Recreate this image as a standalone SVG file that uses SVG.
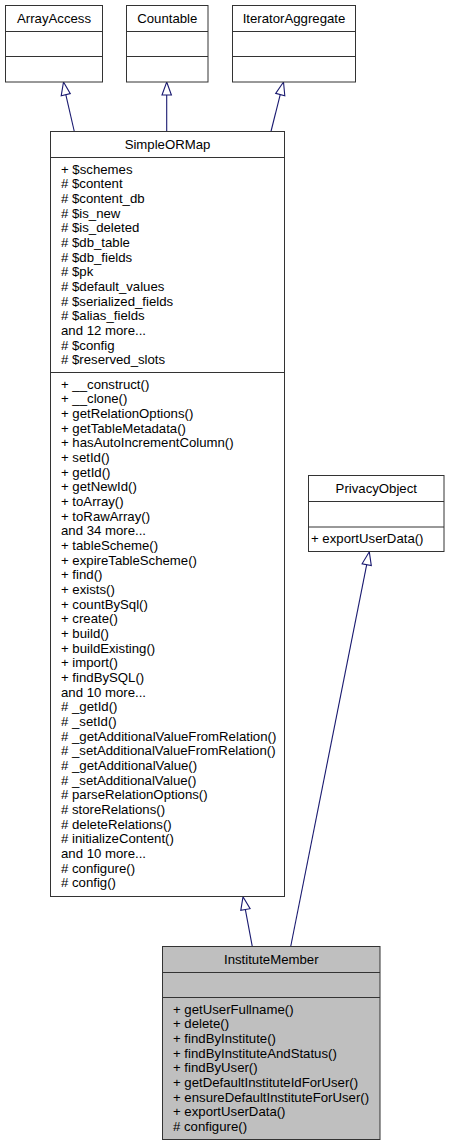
<svg xmlns="http://www.w3.org/2000/svg" width="449" height="1145" viewBox="0 0 449 1145">
<style>
.box{fill:#fff;stroke:#333;stroke-width:1}
.focus{fill:#bfbfbf;stroke:#333;stroke-width:1}
.div{stroke:#333;stroke-width:1;fill:none}
text{font-family:"Liberation Sans",Arial,Helvetica,sans-serif;font-size:13.2px;fill:#000}
.t{text-anchor:middle}
.edge{stroke:#191970;stroke-width:1.1;fill:none}
.head{stroke:#191970;stroke-width:1.1;fill:#fff}
</style>
<rect width="449" height="1145" fill="#fff"/>
<g id="connectors">
<line class="edge" x1="74.3" y1="131.5" x2="65.8" y2="94.7"/>
<polygon class="head" points="63.5,82 70.3,93.6 61.2,95.8"/>
<line class="edge" x1="166.7" y1="131.5" x2="166.7" y2="95"/>
<polygon class="head" points="166.7,82 171.4,95 162,95"/>
<line class="edge" x1="271" y1="131.5" x2="280.2" y2="94.6"/>
<polygon class="head" points="283.5,82 284.8,95.7 275.7,93.4"/>
<line class="edge" x1="252.3" y1="946.5" x2="245.4" y2="909.6"/>
<polygon class="head" points="243,896.8 250.1,908.7 240.8,910.4"/>
<line class="edge" x1="290.7" y1="946.5" x2="366.7" y2="564.7"/>
<polygon class="head" points="369.3,551.8 371.3,565.6 362.1,563.8"/>
</g>
<g id="ArrayAccess">
<rect class="box" x="5.5" y="5.5" width="97" height="76.5"/>
<line class="div" x1="5.5" y1="31.5" x2="102.5" y2="31.5"/>
<line class="div" x1="5.5" y1="56.5" x2="102.5" y2="56.5"/>
<text class="t" x="54" y="22.5">ArrayAccess</text>
</g>
<g id="Countable">
<rect class="box" x="126.5" y="5.5" width="81.5" height="76.5"/>
<line class="div" x1="126.5" y1="31.5" x2="208" y2="31.5"/>
<line class="div" x1="126.5" y1="56.5" x2="208" y2="56.5"/>
<text class="t" x="167.3" y="22.5">Countable</text>
</g>
<g id="IteratorAggregate">
<rect class="box" x="232.5" y="5.5" width="123" height="76.5"/>
<line class="div" x1="232.5" y1="31.5" x2="355.5" y2="31.5"/>
<line class="div" x1="232.5" y1="56.5" x2="355.5" y2="56.5"/>
<text class="t" x="294" y="22.5">IteratorAggregate</text>
</g>
<g id="SimpleORMap">
<rect class="box" x="50.5" y="131.5" width="234" height="765"/>
<line class="div" x1="50.5" y1="157.5" x2="284.5" y2="157.5"/>
<line class="div" x1="50.5" y1="372.5" x2="284.5" y2="372.5"/>
<text class="t" x="167.5" y="148.5">SimpleORMap</text>
<text x="61" y="173.5">+ $schemes</text>
<text x="61" y="188.2"># $content</text>
<text x="61" y="202.8"># $content_db</text>
<text x="61" y="217.5"># $is_new</text>
<text x="61" y="232.2"># $is_deleted</text>
<text x="61" y="246.9"># $db_table</text>
<text x="61" y="261.5"># $db_fields</text>
<text x="61" y="276.2"># $pk</text>
<text x="61" y="290.9"># $default_values</text>
<text x="61" y="305.5"># $serialized_fields</text>
<text x="61" y="320.2"># $alias_fields</text>
<text x="61" y="334.9">and 12 more...</text>
<text x="61" y="349.5"># $config</text>
<text x="61" y="364.2"># $reserved_slots</text>
<text x="61" y="388.5">+ __construct()</text>
<text x="61" y="403.2">+ __clone()</text>
<text x="61" y="417.8">+ getRelationOptions()</text>
<text x="61" y="432.5">+ getTableMetadata()</text>
<text x="61" y="447.2">+ hasAutoIncrementColumn()</text>
<text x="61" y="461.9">+ setId()</text>
<text x="61" y="476.5">+ getId()</text>
<text x="61" y="491.2">+ getNewId()</text>
<text x="61" y="505.9">+ toArray()</text>
<text x="61" y="520.5">+ toRawArray()</text>
<text x="61" y="535.2">and 34 more...</text>
<text x="61" y="549.9">+ tableScheme()</text>
<text x="61" y="564.5">+ expireTableScheme()</text>
<text x="61" y="579.2">+ find()</text>
<text x="61" y="593.9">+ exists()</text>
<text x="61" y="608.6">+ countBySql()</text>
<text x="61" y="623.2">+ create()</text>
<text x="61" y="637.9">+ build()</text>
<text x="61" y="652.6">+ buildExisting()</text>
<text x="61" y="667.2">+ import()</text>
<text x="61" y="681.9">+ findBySQL()</text>
<text x="61" y="696.6">and 10 more...</text>
<text x="61" y="711.2"># _getId()</text>
<text x="61" y="725.9"># _setId()</text>
<text x="61" y="740.6"># _getAdditionalValueFromRelation()</text>
<text x="61" y="755.2"># _setAdditionalValueFromRelation()</text>
<text x="61" y="769.9"># _getAdditionalValue()</text>
<text x="61" y="784.6"># _setAdditionalValue()</text>
<text x="61" y="799.3"># parseRelationOptions()</text>
<text x="61" y="813.9"># storeRelations()</text>
<text x="61" y="828.6"># deleteRelations()</text>
<text x="61" y="843.3"># initializeContent()</text>
<text x="61" y="857.9">and 10 more...</text>
<text x="61" y="872.6"># configure()</text>
<text x="61" y="887.3"># config()</text>
</g>
<g id="PrivacyObject">
<rect class="box" x="308.5" y="475.5" width="135.5" height="76"/>
<line class="div" x1="308.5" y1="501.5" x2="444" y2="501.5"/>
<line class="div" x1="308.5" y1="527" x2="444" y2="527"/>
<text class="t" x="376.3" y="492.5">PrivacyObject</text>
<text x="311" y="543">+ exportUserData()</text>
</g>
<g id="InstituteMember">
<rect class="focus" x="162.5" y="946.5" width="217.5" height="193"/>
<line class="div" x1="162.5" y1="972.5" x2="380" y2="972.5"/>
<line class="div" x1="162.5" y1="997.5" x2="380" y2="997.5"/>
<text class="t" x="271.3" y="963.5">InstituteMember</text>
<text x="173" y="1013.5">+ getUserFullname()</text>
<text x="173" y="1028.2">+ delete()</text>
<text x="173" y="1042.8">+ findByInstitute()</text>
<text x="173" y="1057.5">+ findByInstituteAndStatus()</text>
<text x="173" y="1072.2">+ findByUser()</text>
<text x="173" y="1086.9">+ getDefaultInstituteIdForUser()</text>
<text x="173" y="1101.5">+ ensureDefaultInstituteForUser()</text>
<text x="173" y="1116.2">+ exportUserData()</text>
<text x="173" y="1130.9"># configure()</text>
</g>
</svg>
